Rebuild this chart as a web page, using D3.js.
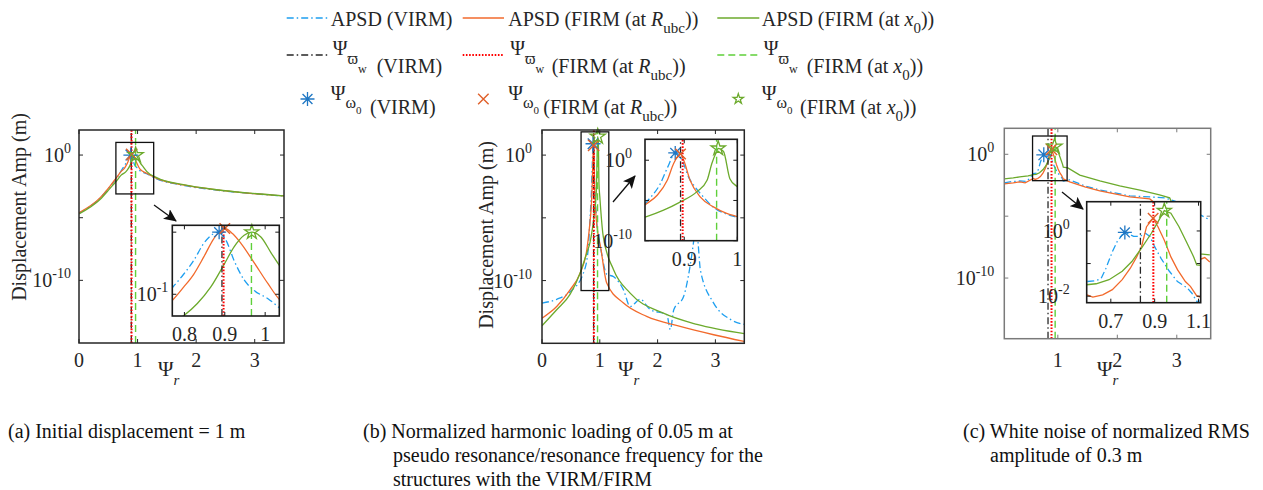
<!DOCTYPE html>
<html>
<head>
<meta charset="utf-8">
<script src="https://cdn.jsdelivr.net/npm/d3@7"></script>
<style>
  body { margin: 0; background: #fff; }
  text { font-family: "Liberation Serif", "Times New Roman", serif; fill: #262626; }
</style>
</head>
<body>
<div id="chart"></div>
<script>
// ---------- data ----------
// panel (a) initial displacement
var aVirmX = [0, 0.358, 0.53, 0.643, 0.72, 0.771, 0.798, 0.823, 0.848, 0.873, 0.886, 0.903, 0.923, 0.948, 0.973, 1.007, 1.038, 1.155, 1.326, 1.78, 2.35, 2.92, 3.5];
var aVirmY = [2.3e-5, 3.6e-4, 3.0e-3, 1.4e-2, 5.6e-2, 0.13, 0.21, 0.35, 0.66, 0.95, 1.0, 0.74, 0.35, 0.17, 0.115, 0.085, 0.059, 0.032, 0.0126, 3.8e-3, 1.6e-3, 8.7e-4, 5.4e-4];
var aRubcX = [0, 0.358, 0.53, 0.643, 0.72, 0.771, 0.798, 0.823, 0.848, 0.873, 0.9, 0.919, 0.94, 0.973, 1.007, 1.038, 1.155, 1.326, 1.78, 2.35, 2.92, 3.5];
var aRubcY = [2.5e-5, 3.8e-4, 3.3e-3, 1.66e-2, 5.0e-2, 0.081, 0.13, 0.21, 0.40, 0.79, 1.15, 0.95, 0.66, 0.32, 0.148, 0.079, 0.035, 0.0138, 4.1e-3, 1.66e-3, 8.9e-4, 5.5e-4];
var aX0X = [0, 0.358, 0.53, 0.643, 0.72, 0.798, 0.832, 0.865, 0.898, 0.923, 0.948, 0.967, 0.99, 1.015, 1.038, 1.1, 1.155, 1.326, 1.78, 2.35, 2.92, 3.5];
var aX0Y = [2.0e-5, 2.8e-4, 2.2e-3, 8.9e-3, 2.5e-2, 0.045, 0.071, 0.13, 0.30, 0.58, 0.89, 1.0, 0.83, 0.46, 0.275, 0.11, 0.05, 0.0158, 4.3e-3, 1.7e-3, 9.1e-4, 5.6e-4];
var aPeakX = [0.886, 0.9, 0.967];      // psi_omega0: VIRM, FIRM(Rubc), FIRM(x0)
var aPeakY = [1.0, 1.15, 1.0];
var aVarpiX = [0.893, 0.897, 0.966];   // psi_varpi_w: VIRM, FIRM(Rubc), FIRM(x0)

// panel (b) harmonic loading
var bVirmX = [0, 0.254, 0.485, 0.716, 0.8, 0.829, 0.855, 0.869, 0.883, 0.896, 0.908, 0.92, 0.936, 0.955, 0.98, 1.0, 1.12, 1.24, 1.41, 1.525, 1.7, 1.87, 2.16, 2.22, 2.28, 2.45, 2.56, 2.62, 2.66, 2.7, 2.74, 2.97, 3.26, 3.5];
var bVirmY = [1.6e-12, 3.2e-12, 1.26e-11, 3.9e-10, 3.2e-8, 6.3e-6, 1.26e-3, 0.148, 8, 1.0, 8.5e-3, 5e-4, 2.8e-5, 1.4e-6, 2e-7, 7.9e-8, 3.2e-10, 2.0e-10, 1.8e-11, 8.5e-13, 3.2e-12, 5e-13, 1.9e-13, 1.26e-14, 4.7e-13, 5.4e-12, 1.26e-9, 1e-7, 3.2e-6, 1e-7, 7e-10, 1.6e-12, 8e-14, 3.2e-14];
var bRubcX = [0, 0.254, 0.485, 0.659, 0.775, 0.829, 0.849, 0.868, 0.88, 0.893, 0.899, 0.911, 0.93, 0.955, 0.98, 1.0, 1.12, 1.41, 1.81, 2.39, 2.97, 3.5];
var bRubcY = [1e-13, 8.5e-13, 1.8e-11, 3.9e-10, 2.75e-8, 4e-6, 4.5e-5, 3.2e-3, 0.39, 6, 1.0, 3.2e-3, 2.8e-5, 1.6e-6, 2.5e-7, 1e-7, 6.3e-11, 1.6e-12, 1.4e-13, 2.2e-14, 4.8e-15, 1.4e-15];
var bX0X = [0, 0.254, 0.485, 0.659, 0.775, 0.829, 0.861, 0.892, 0.924, 0.943, 0.952, 0.961, 0.964, 0.974, 0.986, 1.0, 1.06, 1.24, 1.525, 2.1, 2.68, 3.5];
var bX0Y = [2.5e-14, 4.7e-13, 7.9e-12, 3.9e-10, 1.6e-8, 1e-7, 6.3e-7, 6.3e-6, 1.26e-4, 3.2e-3, 0.39, 12, 30, 12, 5e-3, 5e-4, 3.2e-7, 7e-10, 1e-11, 2.5e-13, 3.2e-14, 5.8e-15];
var bPeakX = [0.883, 0.893, 0.964];
var bPeakY = [8, 6, 30];
var bVarpiX = [0.893, 0.897, 0.961];

// panel (c) white noise
var cVirmX = [0.1, 0.22, 0.36, 0.48, 0.589, 0.633, 0.656, 0.678, 0.707, 0.729, 0.752, 0.774, 0.804, 0.833, 0.858, 0.878, 0.9, 0.929, 0.967, 1.004, 1.048, 1.07, 1.092, 1.2, 1.454, 1.706, 1.958, 2.21, 2.546, 2.8, 3.05, 3.3, 3.555];
var cVirmY = [4.9e-3, 6.2e-3, 7e-3, 6.5e-3, 0.028, 0.030, 0.035, 0.072, 0.23, 0.47, 0.76, 0.85, 0.68, 0.68, 0.85, 0.68, 0.33, 0.145, 0.058, 0.028, 0.018, 0.0123, 6.9e-3, 8.5e-3, 2.8e-3, 1.3e-3, 7.6e-4, 4.4e-4, 3.6e-4, 3e-4, 1.2e-4, 2.2e-5, 5e-6];
var cRubcX = [0.1, 0.25, 0.36, 0.45, 0.589, 0.618, 0.663, 0.707, 0.752, 0.789, 0.818, 0.84, 0.863, 0.893, 0.915, 0.944, 0.974, 1.004, 1.04, 1.063, 1.092, 1.2, 1.454, 1.706, 1.958, 2.21, 2.546, 2.88, 3.22, 3.39, 3.47, 3.555];
var cRubcY = [4e-3, 4.9e-3, 5.9e-3, 4.9e-3, 0.011, 9.3e-3, 0.011, 0.0158, 0.032, 0.072, 0.16, 0.33, 1.35, 2.45, 1.35, 0.52, 0.16, 0.065, 0.028, 0.02, 0.0102, 5.9e-3, 2.3e-3, 1.1e-3, 6.3e-4, 3.6e-4, 2.5e-4, 1.26e-5, 2e-8, 3.2e-9, 4.5e-9, 2e-9];
var cX0X = [0.1, 0.25, 0.36, 0.5, 0.589, 0.633, 0.692, 0.752, 0.796, 0.84, 0.885, 0.915, 0.944, 0.974, 1.011, 1.048, 1.078, 1.092, 1.168, 1.37, 1.706, 2.04, 2.38, 2.71, 2.88, 3.13, 3.39, 3.555];
var cX0Y = [0.0102, 0.0123, 0.0148, 0.0178, 0.0224, 0.024, 0.032, 0.058, 0.115, 0.30, 0.85, 1.9, 4.2, 3.5, 1.35, 0.42, 0.16, 0.091, 0.079, 0.021, 7e-3, 2.8e-3, 1.3e-3, 5.2e-4, 3e-4, 7.9e-7, 9e-9, 7.6e-9];
var cPeakX = [0.764, 0.893, 0.944];
var cPeakY = [0.9, 2.45, 4.2];
var cVarpiX = [0.835, 0.894, 0.955];

// legend and caption texts
var colLabels = ["(VIRM)", "(FIRM (at ", "(FIRM (at "];
var colVars = ["", "R", "x"];
var colSubs = ["", "ubc", "0"];
var captionA = ["(a) Initial displacement = 1 m"];
var captionB = ["(b) Normalized harmonic loading of 0.05 m at", "pseudo resonance/resonance frequency for the", "structures with the VIRM/FIRM"];
var captionC = ["(c) White noise of normalized RMS", "amplitude of 0.3 m"];

// ---------- styles ----------
var cBlue = "#1e9ff0", cOrange = "#f26a2c", cGreen = "#6caa2c";
var cRed = "#ff0000", cBlack = "#262626", cLime = "#5fd03a";
var mBlue = "#1f77c4", mOrange = "#e0602a", mGreen = "#6caa2c";
var dashDot = "7,3,1.5,3";

var svgWidth = 1263, svgHeight = 490;
var svg = d3.select("#chart").append("svg")
    .attr("width", svgWidth)
    .attr("height", svgHeight);

var defs = svg.append("defs");
defs.append("marker")
    .attr("id", "arrowhead")
    .attr("markerUnits", "userSpaceOnUse")
    .attr("markerWidth", 14).attr("markerHeight", 12)
    .attr("refX", 12).attr("refY", 6)
    .attr("orient", "auto")
    .append("path")
    .attr("d", "M0,0 L13,6 L0,12 L3,6 Z")
    .attr("fill", "#111");

// text with sub/superscript parts
function richText(parent, x, y, size, parts) {
    var t = parent.append("text").attr("x", x).attr("y", y).style("font-size", size + "px");
    var cur = 0;
    parts.forEach(function(p) {
        var off = p.off || 0;
        var s = t.append("tspan").text(p.t).attr("dy", off - cur);
        cur = off;
        if (p.size) s.style("font-size", p.size + "px");
        if (p.it) s.style("font-style", "italic");
        if (p.x != null) s.attr("x", p.x);
    });
    return t;
}

// marker symbols
function drawMarker(g, kind, cx, cy, r) {
    if (kind === "ast") {
        var d = "";
        [0, 45, 90, 135].forEach(function(a) {
            var dx = r * Math.cos(a * Math.PI / 180), dy = r * Math.sin(a * Math.PI / 180);
            d += "M" + (cx - dx) + "," + (cy - dy) + "L" + (cx + dx) + "," + (cy + dy);
        });
        g.append("path").attr("d", d).attr("stroke", mBlue).attr("stroke-width", 1.3).attr("fill", "none");
    } else if (kind === "x") {
        var q = r * 0.75;
        g.append("path")
            .attr("d", "M" + (cx - q) + "," + (cy - q) + "L" + (cx + q) + "," + (cy + q) + "M" + (cx - q) + "," + (cy + q) + "L" + (cx + q) + "," + (cy - q))
            .attr("stroke", mOrange).attr("stroke-width", 1.4).attr("fill", "none");
    } else {
        g.append("path")
            .attr("d", d3.symbol().type(d3.symbolStar).size(r * r * 1.3)())
            .attr("transform", "translate(" + cx + "," + cy + ")")
            .attr("stroke", mGreen).attr("stroke-width", 1.3).attr("fill", "none");
    }
}

// curves, vertical markers and peak markers for one set of scales
function drawLayer(g, x, y, p, clipId, markR) {
    var layer = g.append("g").attr("clip-path", "url(#" + clipId + ")");
    var line = d3.line()
        .x(function(d) { return x(d[0]); })
        .y(function(d) { return y(d[1]); })
        .curve(p.smooth ? d3.curveMonotoneX : d3.curveLinear);
    var series = [
        {xs: p.virmX, ys: p.virmY, color: cBlue, dash: dashDot},
        {xs: p.rubcX, ys: p.rubcY, color: cOrange, dash: null},
        {xs: p.x0X, ys: p.x0Y, color: cGreen, dash: null}
    ];
    series.forEach(function(s) {
        layer.append("path")
            .datum(d3.zip(s.xs, s.ys))
            .attr("d", line)
            .attr("fill", "none")
            .attr("stroke", s.color)
            .attr("stroke-width", 1.3)
            .attr("stroke-dasharray", s.dash);
    });
    var vStyles = [
        {color: cBlack, dash: dashDot, w: 1.3},
        {color: cRed, dash: "1.6,1.6", w: 2},
        {color: cLime, dash: "7,4", w: 1.4}
    ];
    var yr = y.range();
    p.varpiX.forEach(function(v, i) {
        layer.append("line")
            .attr("x1", x(v)).attr("x2", x(v))
            .attr("y1", yr[0]).attr("y2", yr[1])
            .attr("stroke", vStyles[i].color)
            .attr("stroke-width", vStyles[i].w)
            .attr("stroke-dasharray", vStyles[i].dash);
    });
    var kinds = ["ast", "x", "star"];
    p.peakX.forEach(function(v, i) {
        drawMarker(g, kinds[i], x(v), y(p.peakY[i]), markR);
    });
}

function logLabel(g, x, y, exp) {
    var t = g.append("text").attr("x", x).attr("y", y + 7).attr("text-anchor", "end").style("font-size", "20px");
    t.append("tspan").text("10");
    t.append("tspan").attr("dy", -9).style("font-size", "14px").text(exp);
}

// box with inward ticks on all sides
function drawFrame(g, x, y, o) {
    var xr = x.range(), yr = y.range();
    var tl = 4;
    o.xTicks.forEach(function(v) {
        g.append("line").attr("x1", x(v)).attr("x2", x(v)).attr("y1", yr[0]).attr("y2", yr[0] - tl).attr("stroke", o.stroke).attr("stroke-width", 1);
        g.append("line").attr("x1", x(v)).attr("x2", x(v)).attr("y1", yr[1]).attr("y2", yr[1] + tl).attr("stroke", o.stroke).attr("stroke-width", 1);
    });
    o.yTicks.forEach(function(v) {
        g.append("line").attr("x1", xr[0]).attr("x2", xr[0] + tl).attr("y1", y(v)).attr("y2", y(v)).attr("stroke", o.stroke).attr("stroke-width", 1);
        g.append("line").attr("x1", xr[1]).attr("x2", xr[1] - tl).attr("y1", y(v)).attr("y2", y(v)).attr("stroke", o.stroke).attr("stroke-width", 1);
    });
    g.append("rect")
        .attr("x", xr[0]).attr("y", yr[1])
        .attr("width", xr[1] - xr[0]).attr("height", yr[0] - yr[1])
        .attr("fill", "none").attr("stroke", o.stroke).attr("stroke-width", o.width);
    o.xLabels.forEach(function(v) {
        g.append("text")
            .attr("x", x(v)).attr("y", o.xLabelY)
            .attr("text-anchor", "middle")
            .style("font-size", "20px")
            .text(o.xFormat ? o.xFormat(v) : v);
    });
    o.yLabels.forEach(function(v) {
        logLabel(g, xr[0] - o.yGap, y(v), String(Math.round(Math.log10(v))));
    });
}

function drawPanel(p) {
    var g = svg.append("g");
    var x = d3.scaleLinear().domain(p.xDomain).range([p.left, p.right]);
    var y = d3.scaleLog().domain(p.yDomain).range([p.bottom, p.top]);

    defs.append("clipPath").attr("id", "clip-" + p.id)
        .append("rect").attr("x", p.left).attr("y", p.top)
        .attr("width", p.right - p.left).attr("height", p.bottom - p.top);

    drawLayer(g, x, y, p, "clip-" + p.id, 7.5);

    // zoom window and arrow
    g.append("rect")
        .attr("x", x(p.zoomX[0])).attr("y", y(p.zoomY[1]))
        .attr("width", x(p.zoomX[1]) - x(p.zoomX[0]))
        .attr("height", y(p.zoomY[0]) - y(p.zoomY[1]))
        .attr("fill", "none").attr("stroke", "#111").attr("stroke-width", 1.3);
    g.append("line")
        .attr("x1", p.arrow[0]).attr("y1", p.arrow[1])
        .attr("x2", p.arrow[2]).attr("y2", p.arrow[3])
        .attr("stroke", "#111").attr("stroke-width", 1.3)
        .attr("marker-end", "url(#arrowhead)");

    // main frame
    drawFrame(g, x, y, {
        xTicks: p.xTicks, yTicks: [1, 1e-5, 1e-10], xLabels: p.xTicks, yLabels: [1, 1e-10],
        xLabelY: 367, yGap: p.yGap, stroke: p.frameColor, width: 1.5
    });

    // inset
    var ins = p.inset;
    var ix = d3.scaleLinear().domain(ins.xDomain).range([ins.left, ins.right]);
    var iy = d3.scaleLog().domain(ins.yDomain).range([ins.bottom, ins.top]);
    g.append("rect").attr("x", ins.left).attr("y", ins.top)
        .attr("width", ins.right - ins.left).attr("height", ins.bottom - ins.top)
        .attr("fill", "#fff");
    defs.append("clipPath").attr("id", "iclip-" + p.id)
        .append("rect").attr("x", ins.left).attr("y", ins.top)
        .attr("width", ins.right - ins.left).attr("height", ins.bottom - ins.top);
    drawLayer(g, ix, iy, p, "iclip-" + p.id, 7);
    drawFrame(g, ix, iy, {
        xTicks: ins.xTicks, yTicks: ins.yTicks, xLabels: ins.xTicks, yLabels: ins.yLabels,
        xLabelY: ins.bottom + 25, yGap: ins.yGap, stroke: "#1a1a1a", width: 1.6,
        xFormat: function(v) { return v === 1 ? "1" : d3.format(".1f")(v); }
    });

    // axis titles
    richText(g, p.psiX, 376, 21, [{t: "\u03A8"}, {t: "r", off: 9, size: 15, it: true}]);
    if (p.yTitle) {
        g.append("text")
            .attr("transform", "translate(" + p.yTitle[0] + "," + p.yTitle[1] + ") rotate(-90)")
            .attr("text-anchor", "middle")
            .style("font-size", "20px")
            .text("Displacement Amp (m)");
    }
}

var panels = [
    {id: "a", left: 79, right: 284, top: 130, bottom: 343, xDomain: [0, 3.5], yDomain: [1e-15, 1e2],
     xTicks: [0, 1, 2, 3], yGap: 8, frameColor: "#262626", smooth: true,
     virmX: aVirmX, virmY: aVirmY, rubcX: aRubcX, rubcY: aRubcY, x0X: aX0X, x0Y: aX0Y,
     peakX: aPeakX, peakY: aPeakY, varpiX: aVarpiX,
     zoomX: [0.63, 1.275], zoomY: [7.9e-4, 10.2], arrow: [154, 205, 176, 221],
     inset: {left: 172.3, right: 279.3, top: 225.3, bottom: 316, xDomain: [0.77, 1.035], yDomain: [0.0447, 1.29],
             xTicks: [0.8, 0.9, 1], yTicks: [0.1, 1], yLabels: [0.1], yGap: 4},
     psiX: 158, yTitle: [26, 207]},
    {id: "b", left: 542, right: 744.3, top: 130, bottom: 343.3, xDomain: [0, 3.5], yDomain: [1e-15, 1e2],
     xTicks: [0, 1, 2, 3], yGap: 10, frameColor: "#262626", smooth: true,
     virmX: bVirmX, virmY: bVirmY, rubcX: bRubcX, rubcY: bRubcY, x0X: bX0X, x0Y: bX0Y,
     peakX: bPeakX, peakY: bPeakY, varpiX: bVarpiX,
     zoomX: [0.676, 1.156], zoomY: [1.6e-11, 71], arrow: [613, 202, 635, 176],
     inset: {left: 645, right: 737.3, top: 139.3, bottom: 240.7, xDomain: [0.826, 1.0], yDomain: [1e-10, 398],
             xTicks: [0.9, 1], yTicks: [1, 1e-5, 1e-10], yLabels: [1, 1e-10], yGap: 13},
     psiX: 618, yTitle: [493, 235]},
    {id: "c", left: 1004.3, right: 1210.7, top: 128.3, bottom: 338.7, xDomain: [0.1, 3.57], yDomain: [1.26e-15, 126],
     xTicks: [1, 2, 3], yGap: 10, frameColor: "#7a7a7a", smooth: false,
     virmX: cVirmX, virmY: cVirmY, rubcX: cRubcX, rubcY: cRubcY, x0X: cX0X, x0Y: cX0Y,
     peakX: cPeakX, peakY: cPeakY, varpiX: cVarpiX,
     zoomX: [0.575, 1.156], zoomY: [7.4e-3, 30], arrow: [1062, 192, 1083, 209],
     inset: {left: 1086.7, right: 1200.7, top: 201.7, bottom: 302.7, xDomain: [0.59, 1.11], yDomain: [6.3e-3, 7.9],
             xTicks: [0.7, 0.9, 1.1], yTicks: [1, 0.1, 0.01], yLabels: [1, 0.01], yGap: 17},
     psiX: 1097, yTitle: null}
];

panels.forEach(drawPanel);

// ---------- legend ----------
var legend = svg.append("g");
var colLineX = [[286.7, 328.3], [462.7, 504], [717.3, 759.3]];
var colTextX = [330.7, 508.3, 761.7];
var row2ParenX = [376.7, 551.7, 806.7];
var row3ParenX = [370, 543.3, 800];
var lineColors = [cBlue, cOrange, cGreen];
var vColors = [cBlack, cRed, cLime];
var vDash = [dashDot, "1.6,1.6", "7,4"];
var vWidth = [1.3, 2, 1.4];
var kinds = ["ast", "x", "star"];

function tailParts(i) {
    var parts = [{t: colLabels[i]}];
    if (colVars[i]) {
        parts.push({t: colVars[i], it: true});
        parts.push({t: colSubs[i], off: 7, size: 15});
        parts.push({t: "))", off: 0});
    }
    return parts;
}

for (var i = 0; i < 3; i++) {
    // row 1: APSD lines
    legend.append("line")
        .attr("x1", colLineX[i][0]).attr("x2", colLineX[i][1])
        .attr("y1", 18).attr("y2", 18)
        .attr("stroke", lineColors[i]).attr("stroke-width", 1.4)
        .attr("stroke-dasharray", i === 0 ? dashDot : null);
    var p1 = [{t: "APSD "}].concat(tailParts(i));
    richText(legend, colTextX[i], 26, 20, p1);

    // row 2: psi varpi_w
    legend.append("line")
        .attr("x1", colLineX[i][0]).attr("x2", colLineX[i][1])
        .attr("y1", 55).attr("y2", 55)
        .attr("stroke", vColors[i]).attr("stroke-width", vWidth[i])
        .attr("stroke-dasharray", vDash[i]);
    var t2 = tailParts(i);
    t2[0].x = row2ParenX[i];
    var p2 = [{t: "\u03A8"}, {t: "\u03D6", off: 9, size: 16}, {t: "w", off: 18, size: 12}, {t: "", off: 0}].concat(t2);
    richText(legend, colTextX[i] + 2, 55, 20, p2);

    // row 3: psi omega_0 markers
    drawMarker(legend, kinds[i], (colLineX[i][0] + colLineX[i][1]) / 2, 99, i === 2 ? 5 : 7);
    var t3 = tailParts(i);
    t3[0].x = row3ParenX[i];
    var p3 = [{t: "\u03A8"}, {t: "\u03C9", off: 8, size: 16}, {t: "0", off: 14, size: 11}, {t: "", off: 0}].concat(t3);
    richText(legend, colTextX[i], 100, 20, p3);
}

// ---------- captions ----------
function caption(lines, x, indent) {
    lines.forEach(function(s, k) {
        svg.append("text")
            .attr("x", k === 0 ? x : x + indent)
            .attr("y", 438 + k * 24)
            .style("font-size", "20px")
            .style("fill", "#111")
            .text(s);
    });
}
caption(captionA, 8, 0);
caption(captionB, 363, 30);
caption(captionC, 963, 27);
</script>
</body>
</html>
